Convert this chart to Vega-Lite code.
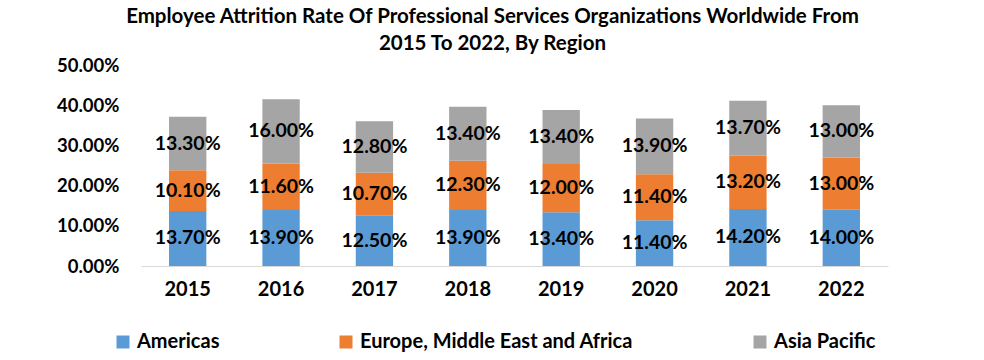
{
  "$schema": "https://vega.github.io/schema/vega-lite/v6.json",
  "width": 747,
  "height": 201,
  "autosize": "none",
  "padding": {"left": 141, "top": 65, "right": 96, "bottom": 94},
  "background": "white",
  "title": {
    "text": ["Employee Attrition Rate Of Professional Services Organizations Worldwide From", "2015 To 2022, By Region"],
    "font": "Lato",
    "fontSize": 20.5,
    "fontWeight": "bold",
    "color": "#000000",
    "anchor": "middle",
    "dx": -22,
    "offset": 2,
    "lineHeight": 27
  },
  "config": {
    "view": {"stroke": null},
    "font": "Lato"
  },
  "data": {
    "values": [
      {"year": "2015", "region": "Americas", "o": 1, "v": 0.137},
      {"year": "2015", "region": "Europe, Middle East and Africa", "o": 2, "v": 0.101},
      {"year": "2015", "region": "Asia Pacific", "o": 3, "v": 0.133},
      {"year": "2016", "region": "Americas", "o": 1, "v": 0.139},
      {"year": "2016", "region": "Europe, Middle East and Africa", "o": 2, "v": 0.116},
      {"year": "2016", "region": "Asia Pacific", "o": 3, "v": 0.160},
      {"year": "2017", "region": "Americas", "o": 1, "v": 0.125},
      {"year": "2017", "region": "Europe, Middle East and Africa", "o": 2, "v": 0.107},
      {"year": "2017", "region": "Asia Pacific", "o": 3, "v": 0.128},
      {"year": "2018", "region": "Americas", "o": 1, "v": 0.139},
      {"year": "2018", "region": "Europe, Middle East and Africa", "o": 2, "v": 0.123},
      {"year": "2018", "region": "Asia Pacific", "o": 3, "v": 0.134},
      {"year": "2019", "region": "Americas", "o": 1, "v": 0.134},
      {"year": "2019", "region": "Europe, Middle East and Africa", "o": 2, "v": 0.120},
      {"year": "2019", "region": "Asia Pacific", "o": 3, "v": 0.134},
      {"year": "2020", "region": "Americas", "o": 1, "v": 0.114},
      {"year": "2020", "region": "Europe, Middle East and Africa", "o": 2, "v": 0.114},
      {"year": "2020", "region": "Asia Pacific", "o": 3, "v": 0.139},
      {"year": "2021", "region": "Americas", "o": 1, "v": 0.142},
      {"year": "2021", "region": "Europe, Middle East and Africa", "o": 2, "v": 0.132},
      {"year": "2021", "region": "Asia Pacific", "o": 3, "v": 0.137},
      {"year": "2022", "region": "Americas", "o": 1, "v": 0.140},
      {"year": "2022", "region": "Europe, Middle East and Africa", "o": 2, "v": 0.130},
      {"year": "2022", "region": "Asia Pacific", "o": 3, "v": 0.130}
    ]
  },
  "transform": [
    {"stack": "v", "groupby": ["year"], "sort": [{"field": "o", "order": "ascending"}], "as": ["v0", "v1"]},
    {"calculate": "(datum.v0 + datum.v1) / 2", "as": "vm"}
  ],
  "encoding": {
    "x": {
      "field": "year",
      "type": "ordinal",
      "title": null,
      "scale": {"paddingInner": 0.6, "paddingOuter": 0.3},
      "axis": {
        "labelAngle": 0,
        "labelFont": "Lato",
        "labelFontSize": 20,
        "labelFontWeight": "bold",
        "labelColor": "#000000",
        "labelPadding": 13,
        "ticks": false,
        "domainColor": "#D9D9D9",
        "domainWidth": 1
      }
    }
  },
  "layer": [
    {
      "mark": {"type": "bar"},
      "encoding": {
        "y": {
          "field": "v0",
          "type": "quantitative",
          "title": null,
          "scale": {"domain": [0, 0.5]},
          "axis": {
            "format": ".2%",
            "values": [0, 0.1, 0.2, 0.3, 0.4, 0.5],
            "labelOverlap": false,
            "grid": false,
            "domain": false,
            "ticks": false,
            "labelFont": "Lato",
            "labelFontSize": 18.5,
            "labelFontWeight": "bold",
            "labelColor": "#000000",
            "labelPadding": 22
          }
        },
        "y2": {"field": "v1"},
        "color": {
          "field": "region",
          "type": "nominal",
          "sort": ["Americas", "Europe, Middle East and Africa", "Asia Pacific"],
          "scale": {
            "domain": ["Americas", "Europe, Middle East and Africa", "Asia Pacific"],
            "range": ["#5B9BD5", "#ED7D31", "#A5A5A5"]
          },
          "legend": {
            "title": null,
            "orient": "none",
            "direction": "horizontal",
            "columns": 3,
            "legendX": -28,
            "legendY": 267,
            "symbolType": "square",
            "symbolSize": 169,
            "symbolStrokeWidth": 0,
            "symbolOpacity": 1,
            "labelFont": "Lato",
            "labelFontSize": 20,
            "labelFontWeight": "bold",
            "labelColor": "#000000",
            "labelLimit": 400,
            "labelOffset": 4,
            "columnPadding": 116
          }
        }
      }
    },
    {
      "mark": {
        "type": "text",
        "font": "Lato",
        "fontSize": 19.5,
        "fontWeight": "bold",
        "color": "#000000",
        "baseline": "middle",
        "align": "center"
      },
      "encoding": {
        "y": {"field": "vm", "type": "quantitative"},
        "text": {"field": "v", "type": "quantitative", "format": ".2%"}
      }
    }
  ]
}
